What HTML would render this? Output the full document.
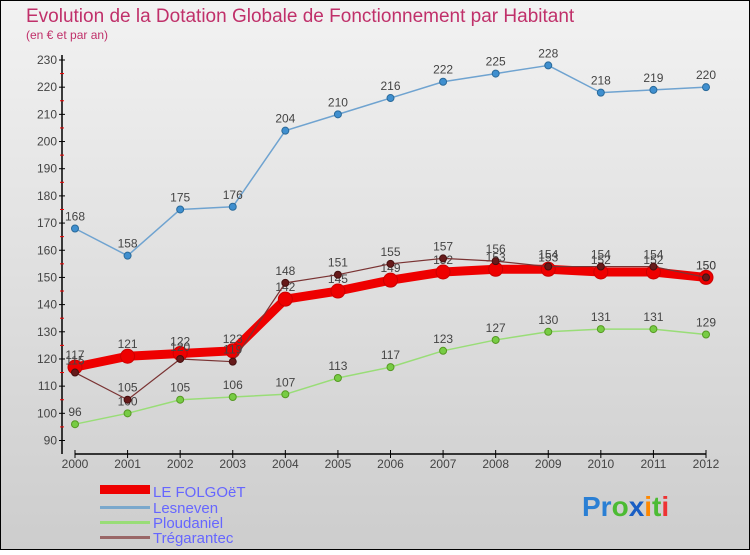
<!DOCTYPE html>
<html><head><meta charset="utf-8"><style>
body{margin:0;width:750px;height:550px;overflow:hidden;font-family:"Liberation Sans",sans-serif}
svg text{font-family:"Liberation Sans",sans-serif}
</style></head><body>
<svg id="c" width="750" height="550" xmlns="http://www.w3.org/2000/svg">
<defs><linearGradient id="bg" x1="0" y1="0" x2="0" y2="1"><stop offset="0" stop-color="#f2f2f2"/><stop offset="1" stop-color="#cdcdcd"/></linearGradient></defs>
<rect x="0.5" y="0.5" width="749" height="549" fill="url(#bg)" stroke="#000"/>
<text x="26" y="22" font-size="19" fill="#c0306a">Evolution de la Dotation Globale de Fonctionnement par Habitant</text>
<text x="26" y="39" font-size="12" fill="#c0306a">(en € et par an)</text>
<g id="axes"></g><g id="series"></g>
<g>
<rect x="100" y="485" width="50" height="9" fill="#e00"/>
<text x="153" y="497" font-size="15" fill="#6666ff">LE FOLGOëT</text>
<rect x="100" y="506" width="50" height="3" fill="#7aa8cc"/>
<text x="153" y="513" font-size="15" fill="#6666ff">Lesneven</text>
<rect x="100" y="521" width="50" height="3" fill="#99dd77"/>
<text x="153" y="528" font-size="15" fill="#6666ff">Ploudaniel</text>
<rect x="100" y="536" width="50" height="3" fill="#996666"/>
<text x="153" y="543" font-size="15" fill="#6666ff">Trégarantec</text>
</g>
<text x="582" y="516" font-size="28" font-weight="bold"><tspan fill="#2a7fd4">Pr</tspan><tspan fill="#4cbb33">o</tspan><tspan fill="#1a5fc4">x</tspan><tspan fill="#ff8800">i</tspan><tspan fill="#4cbb33">t</tspan><tspan fill="#ee3333">i</tspan></text>
</svg>
<script>
const years=[2000,2001,2002,2003,2004,2005,2006,2007,2008,2009,2010,2011,2012];
const folgoet=[117,121,122,123,142,145,149,152,153,153,152,152,150];
const lesneven=[168,158,175,176,204,210,216,222,225,228,218,219,220];
const ploudaniel=[96,100,105,106,107,113,117,123,127,130,131,131,129];
const tregarantec=[115,105,120,119,148,151,155,157,156,154,154,154,150];
const yTicks=[90,100,110,120,130,140,150,160,170,180,190,200,210,220,230];
const NS="http://www.w3.org/2000/svg";
const x=i=>75+i*(706-75)/(years.length-1);
const y=v=>440.5-(v-90)*(440.5-60)/140;
function mk(t,a,p){const e=document.createElementNS(NS,t);for(const k in a)e.setAttribute(k,a[k]);p.appendChild(e);return e;}
const ax=document.getElementById('axes');
let l=mk('line',{x1:62,y1:55,x2:62,y2:454,stroke:'#000','stroke-width':1.5},ax);


l=mk('line',{x1:75,y1:454,x2:706,y2:454,stroke:'#000','stroke-width':1.5},ax);


yTicks.forEach((v,i)=>{
 mk('line',{x1:59,x2:65,y1:y(v),y2:y(v),stroke:'#000'},ax);
 if(i<yTicks.length-1)mk('line',{x1:60,x2:64,y1:y(v+5),y2:y(v+5),stroke:'#e00'},ax);
 const t=mk('text',{x:57,y:y(v)+4,'font-size':12,fill:'#444','text-anchor':'end'},ax);t.textContent=v;
 
 
});
years.forEach((yr,i)=>{
 mk('line',{x1:x(i),x2:x(i),y1:450,y2:458,stroke:'#000'},ax);
 const t=mk('text',{x:x(i),y:468,'font-size':12,fill:'#444','text-anchor':'middle'},ax);t.textContent=yr;
 
 
});
const sg=document.getElementById('series');
function series(name,data,color,w,r,fill,stroke){
 const g=mk('g',{},sg);
 
 
 mk('polyline',{points:data.map((v,i)=>x(i)+','+y(v)).join(' '),fill:'none',stroke:color,'stroke-width':w,'stroke-linejoin':'round'},g);
 data.forEach((v,i)=>{
  const c=mk('circle',{cx:x(i),cy:y(v),r:r,fill:fill,stroke:stroke,'stroke-width':1},g);
  
  
  const t=mk('text',{x:x(i),y:y(v)-8,'font-size':12,fill:'#444','text-anchor':'middle'},g);t.textContent=v;
  
  
 });
}
series('lesneven',lesneven,'#6fa3d0',1.5,3.5,'#3f8fcf','#2a6a9a');
series('ploudaniel',ploudaniel,'#99dd77',1.5,3.5,'#77cc44','#559922');
series('le-folgoet',folgoet,'#ee0000',9,7,'#ee0000','#cc0000');
series('tregarantec',tregarantec,'#7a3333',1.2,3.5,'#661a1a','#441010');
</script>
</body></html>
